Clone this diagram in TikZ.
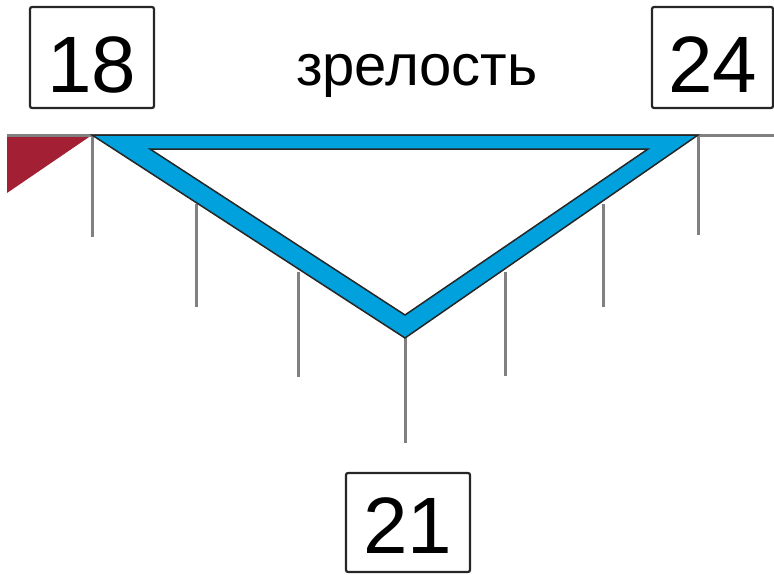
\documentclass[tikz,border=0pt]{standalone}
\usepackage{fontspec}
\setmainfont{Liberation Sans}
\definecolor{tickgray}{RGB}{128,128,128}
\definecolor{bandblue}{RGB}{0,161,221}
\definecolor{darkred}{RGB}{163,31,52}
\begin{document}
\begin{tikzpicture}[x=1pt,y=-1pt,
  numbox/.style={draw=black!85,line width=2.2pt,rounded corners=2pt,inner sep=0pt},
  numtext/.style={anchor=base,inner sep=0pt,font=\fontsize{80}{80}\selectfont},
  tickline/.style={draw=tickgray,line width=3pt},
  label/.style={font=\fontsize{58}{58}\selectfont,inner sep=0pt}]
\useasboundingbox (0,0) rectangle (774,574);
% boxes
\node[numbox,minimum width=124pt,minimum height=101pt] (b18) at (92,57.5) {};
\node[numtext] (t18) at (92,92) {18};
\node[numbox,minimum width=121pt,minimum height=101pt] (b24) at (712.5,57.5) {};
\node[numtext] (t24) at (712.5,92) {24};
\node[numbox,minimum width=124pt,minimum height=99pt] (b21) at (408,522.5) {};
\node[numtext] (t21) at (408,553) {21};
\node[label,anchor=base] (title) at (417,85) {зрелость};
% coordinates
\coordinate (L) at (7,135);
\coordinate (R) at (774,135);
\coordinate (A) at (92,135);
\coordinate (B) at (698,135);
\coordinate (C) at (405,338);
\coordinate (Ai) at (150,149);
\coordinate (Bi) at (648,149);
\coordinate (Ci) at (405,315);
% red triangle
\fill[darkred] (L) -- (A) -- (7,193) -- cycle;
% horizontal line
\draw[tickline] (L) -- (R);
% ticks
\coordinate (k1) at (92,237);
\coordinate (k2s) at (196,204); \coordinate (k2) at (196,307);
\coordinate (k3s) at (298,272); \coordinate (k3) at (298,377);
\coordinate (k4) at (405,443);
\coordinate (k5s) at (505,272); \coordinate (k5) at (505,376);
\coordinate (k6s) at (603,204); \coordinate (k6) at (603,307);
\coordinate (k7) at (698,235);
\draw[tickline] (A) -- (k1);
\draw[tickline] (k2s) -- (k2);
\draw[tickline] (k3s) -- (k3);
\draw[tickline] (C) -- (k4);
\draw[tickline] (k5s) -- (k5);
\draw[tickline] (k6s) -- (k6);
\draw[tickline] (B) -- (k7);
% blue band
\filldraw[fill=bandblue,draw=black!85,line width=1.5pt,even odd rule,line join=miter]
  (A) -- (B) -- (C) -- cycle (Ai) -- (Bi) -- (Ci) -- cycle;
\end{tikzpicture}
\end{document}
